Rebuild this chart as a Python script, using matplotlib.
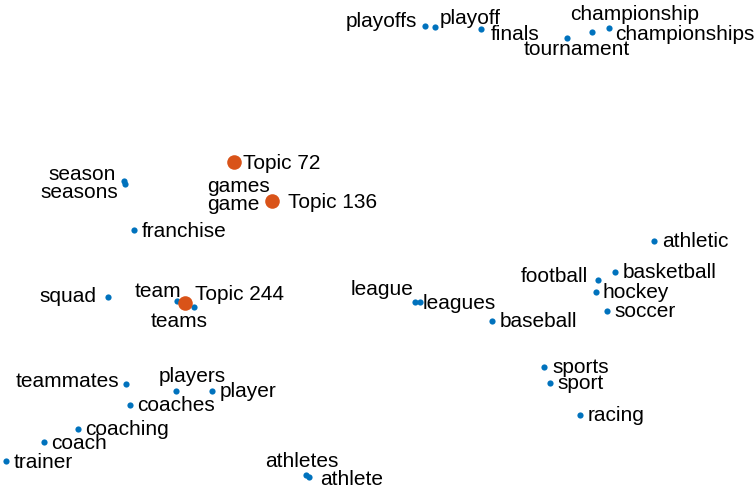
import matplotlib.pyplot as plt

# word embedding points (pixel-like coords, y grows downward)
words = ['playoffs', 'playoff', 'finals', 'tournament', 'championship', 'championships',
         'season', 'seasons', 'games', 'game', 'franchise', 'squad', 'team', 'teams',
         'league', 'leagues', 'baseball', 'football', 'basketball', 'hockey', 'soccer',
         'athletic', 'teammates', 'players', 'player', 'coaches', 'coaching', 'coach',
         'trainer', 'sports', 'sport', 'racing', 'athletes', 'athlete']
word_x = [425, 435, 481, 567, 592, 609,
          124, 125, 271, 269, 134, 108, 177, 194,
          415, 420, 492, 598, 615, 596, 607,
          654, 126, 176, 212, 130, 78, 44,
          6, 544, 550, 580, 306, 309]
word_y = [26, 27, 29, 38, 32, 28,
          181, 184, 199, 202, 230, 297, 301, 307,
          302, 302, 321, 280, 272, 292, 311,
          241, 384, 391, 391, 405, 429, 442,
          461, 367, 383, 415, 475, 477]

topics = ['Topic 72', 'Topic 136', 'Topic 244']
topic_x = [234, 272, 185]
topic_y = [162, 201, 303]

# label placement: (dx, dy, ha)
word_off = [(-8, -6, 'right'), (5, -10, 'left'), (10, 4, 'left'), (10, 10, 'center'),
            (43, -19, 'center'), (6, 5, 'left'),
            (-8, -8, 'right'), (-7, 7, 'right'), (-1, -14, 'right'), (-9, 1, 'right'),
            (8, 0, 'left'), (-12, -2, 'right'), (-19, -11, 'center'), (-15, 13, 'center'),
            (-2, -14, 'right'), (3, 0, 'left'), (8, -1, 'left'), (-10, -5, 'right'),
            (8, -1, 'left'), (7, -1, 'left'), (7, -1, 'left'),
            (8, -1, 'left'), (-7, -4, 'right'), (16, -16, 'center'), (8, -1, 'left'),
            (7, -1, 'left'), (7, -1, 'left'), (7, 0, 'left'),
            (8, 0, 'left'), (8, -1, 'left'), (7, -1, 'left'), (8, -1, 'left'),
            (-4, -15, 'center'), (11, 1, 'left')]
topic_off = [(9, 0, 'left'), (16, 0, 'left'), (10, -10, 'left')]
shift = 1.5  # small global nudge down for text

plt.rcParams['font.family'] = ['Liberation Sans', 'DejaVu Sans']

fig = plt.figure(figsize=(7.55, 4.90), dpi=100)
ax = fig.add_axes([0, 0, 1, 1])

ax.scatter(word_x, word_y, s=20, color='#0072BD', zorder=2, linewidths=0)
ax.scatter(topic_x, topic_y, s=110, color='#D95319', zorder=3, linewidths=0)

for w, x, y, (dx, dy, ha) in zip(words, word_x, word_y, word_off):
    ax.text(x + dx, y + dy + shift, w, ha=ha, va='center', fontsize=15, color='black')
for t, x, y, (dx, dy, ha) in zip(topics, topic_x, topic_y, topic_off):
    ax.text(x + dx, y + dy + shift, t, ha=ha, va='center', fontsize=15, color='black')

ax.set_xlim(0, 755)
ax.set_ylim(490, 0)
ax.axis('off')

fig.savefig('out.png', dpi=100, facecolor='white')
